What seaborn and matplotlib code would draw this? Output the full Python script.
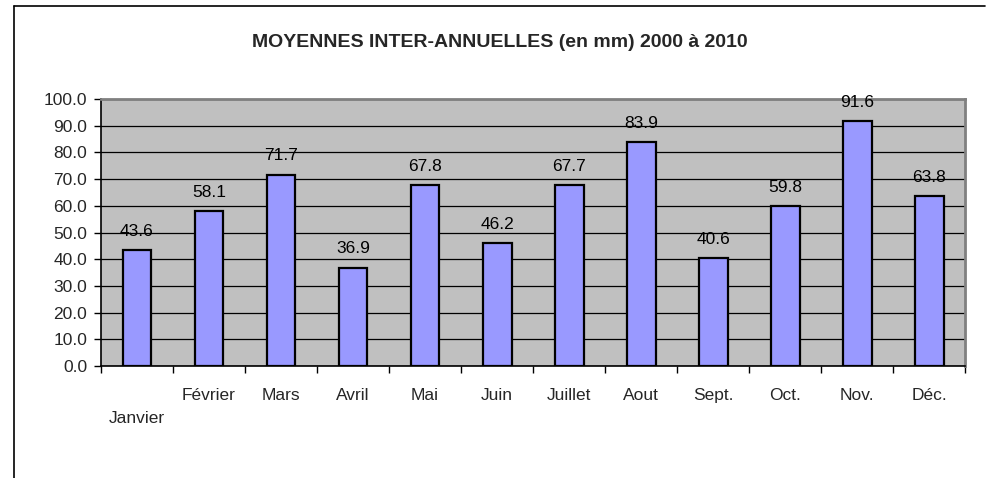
import matplotlib
matplotlib.use("Agg")
import matplotlib.pyplot as plt
from matplotlib.lines import Line2D
import seaborn as sns
import numpy as np

# données
mois = ["Janvier", "Février", "Mars", "Avril", "Mai", "Juin",
        "Juillet", "Aout", "Sept.", "Oct.", "Nov.", "Déc."]
pluie_mm = [43.6, 58.1, 71.7, 36.9, 67.8, 46.2, 67.7, 83.9, 40.6, 59.8, 91.6, 63.8]
y_ticks = [0, 10, 20, 30, 40, 50, 60, 70, 80, 90, 100]
titre = "MOYENNES INTER-ANNUELLES (en mm) 2000 à 2010"

sns.set_style("white")
plt.rcParams["font.family"] = ["Liberation Sans", "DejaVu Sans"]
plt.rcParams["font.size"] = 12.5

fig = plt.figure(figsize=(9.9, 4.78), dpi=100)
ax = fig.add_axes([0.102, 0.234, 0.873, 0.559])
ax.set_facecolor("#C0C0C0")

sns.barplot(x=mois, y=pluie_mm, color="#9999FF", edgecolor="black",
            linewidth=1.6, width=0.4, saturation=1, ax=ax, zorder=3)

# étiquettes de valeurs
for i, v in enumerate(pluie_mm):
    ax.annotate(f"{v:.1f}", (i, v), xytext=(0, 8), textcoords="offset points",
                ha="center", va="bottom", fontsize=12.5, color="black")

ax.set_xlim(-0.5, len(mois) - 0.5)
ax.set_ylim(0, 100)
ax.set_yticks(y_ticks)
ax.set_yticklabels([f"{t:.1f}" for t in y_ticks])
ax.yaxis.grid(True, color="black", linewidth=0.9)
ax.set_axisbelow(True)
ax.set_xlabel("")
ax.set_ylabel("")

# graduations x aux limites des catégories
ax.set_xticks(np.arange(len(mois)))
ax.set_xticklabels(mois)
ax.set_xticks(np.arange(len(mois) + 1) - 0.5, minor=True)
ax.tick_params(axis="x", which="major", length=0, pad=16)
ax.tick_params(axis="x", which="minor", length=5, width=1, color="black", direction="out", bottom=True)
ax.tick_params(axis="y", length=5, width=1, color="black", direction="out", left=True, pad=5)
ax.xaxis.get_major_ticks()[0].set_pad(32)

for s in ["left", "bottom"]:
    ax.spines[s].set_color("black")
    ax.spines[s].set_linewidth(1.2)
for s in ["top", "right"]:
    ax.spines[s].set_color("#808080")
    ax.spines[s].set_linewidth(2)

fig.text(0.505, 0.912, titre, ha="center", va="center", fontsize=14, fontweight="bold")

# cadre du graphique (haut et gauche)
fig.add_artist(Line2D([14 / 990, 985 / 990], [1 - 6 / 478, 1 - 6 / 478], color="black", linewidth=1.2))
fig.add_artist(Line2D([14 / 990, 14 / 990], [0, 1 - 6 / 478], color="black", linewidth=1.2))

fig.savefig("out.png", dpi=100)
